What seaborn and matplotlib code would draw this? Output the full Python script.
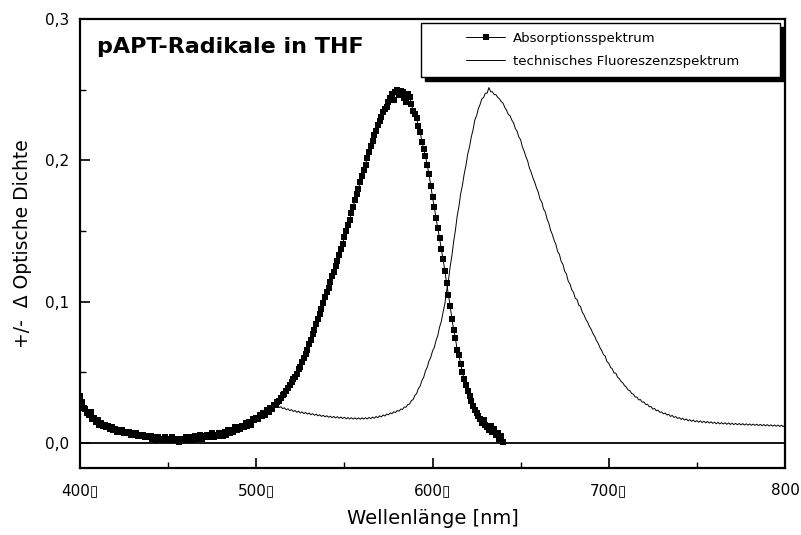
import numpy as np
import pandas as pd
import matplotlib
matplotlib.use("Agg")
import matplotlib.pyplot as plt
from matplotlib.patches import Rectangle
from matplotlib.ticker import FixedLocator, MultipleLocator
import seaborn as sns

# ---------------- data ----------------
# Absorption spectrum, 400..640 nm every 1 nm, values in milli-OD
abs_start, abs_stop, abs_step = 400, 640, 1
abs_milli = [
    33, 29, 25, 24, 21, 20, 22, 17, 18, 15,
    16, 13, 14, 12, 13, 11, 12, 10, 11, 9,
    10, 8, 9, 8, 9, 7, 8, 7, 8, 6,
    7, 6, 7, 5, 6, 5, 6, 4, 5, 4,
    5, 3, 4, 2, 4, 3, 3, 2, 4, 3,
    3, 2, 4, 3, 2, 3, 1, 3, 2, 3,
    4, 2, 3, 4, 2, 5, 3, 4, 6, 3,
    5, 4, 6, 4, 5, 7, 4, 6, 5, 7,
    6, 5, 8, 6, 9, 7, 9, 8, 11, 9,
    11, 10, 12, 11, 14, 12, 15, 13, 17, 16,
    18, 17, 20, 19, 21, 20, 23, 22, 25, 24,
    27, 27, 29, 30, 32, 34, 35, 37, 39, 41,
    43, 45, 47, 49, 52, 54, 57, 60, 63, 66,
    70, 73, 77, 80, 84, 88, 91, 95, 99, 103,
    107, 110, 114, 118, 121, 125, 129, 133, 137, 141,
    146, 150, 154, 158, 163, 167, 172, 176, 180, 185,
    189, 193, 197, 202, 206, 210, 214, 218, 221, 225,
    228, 231, 234, 236, 238, 241, 244, 247, 243, 248,
    250, 246, 249, 248, 244, 241, 247, 245, 240, 235,
    233, 230, 224, 220, 213, 208, 203, 197, 190, 182,
    174, 167, 159, 152, 145, 137, 130, 122, 113, 105,
    97, 88, 80, 74, 66, 62, 56, 50, 45, 41,
    37, 33, 30, 26, 23, 21, 19, 17, 14, 16,
    13, 11, 9, 12, 8, 10, 6, 7, 3, 5, 1,
]

# "technical" fluorescence spectrum, 510..800 nm every 1 nm, milli-OD
fl_start, fl_stop, fl_step = 510, 800, 1
fl_milli = [
    27.5, 26.0, 26.5, 25.1, 25.7, 24.3, 24.9, 23.5, 24.2, 22.9,
    23.6, 22.3, 23.0, 21.7, 22.5, 21.2, 22.0, 20.8, 21.6, 20.4,
    21.2, 20.0, 20.8, 19.6, 20.4, 19.2, 20.0, 18.8, 19.6, 18.5,
    19.3, 18.2, 19.0, 17.9, 18.8, 17.7, 18.6, 17.5, 18.4, 17.3,
    18.2, 17.1, 18.0, 17.0, 17.9, 16.9, 17.8, 16.8, 17.8, 16.8,
    17.8, 16.9, 17.9, 17.0, 18.1, 17.2, 18.3, 17.5, 18.7, 17.9,
    19.2, 18.5, 19.8, 19.1, 20.5, 19.9, 21.3, 20.7, 22.1, 21.5,
    23.0, 22.5, 24.0, 23.7, 25.5, 25.3, 27.3, 27.5, 30.0, 30.7,
    33.7, 35.0, 38.5, 40.3, 44.2, 46.5, 51.0, 53.5, 58.0, 60.5,
    65.0, 67.5, 72.5, 76.0, 82.0, 86.0, 92.5, 98.5, 107.5, 114.5,
    124.5, 132.5, 142.5, 150.5, 160.5, 167.5, 176.5, 182.5, 190.5, 196.5,
    204.5, 209.5, 216.5, 221.5, 228.5, 231.5, 236.5, 239.5, 243.5, 244.5,
    247.5, 247.5, 251.5, 248.5, 248.5, 246.5, 246.5, 244.5, 243.5, 241.5,
    240.5, 237.5, 235.5, 232.5, 231.5, 228.5, 226.5, 222.5, 220.5, 216.5,
    214.5, 209.5, 206.5, 202.5, 199.5, 194.5, 191.5, 187.5, 184.5, 180.5,
    177.5, 172.5, 170.5, 165.5, 163.5, 158.5, 155.5, 150.5, 147.5, 143.5,
    140.5, 135.5, 133.5, 128.5, 126.5, 121.5, 119.5, 114.5, 112.5, 108.5,
    106.5, 102.5, 101.5, 97.5, 96.5, 92.5, 90.5, 87.5, 85.5, 82.5,
    80.5, 77.5, 75.5, 72.5, 70.5, 67.5, 65.5, 62.5, 61.5, 57.5,
    56.5, 53.5, 52.5, 49.5, 49.5, 46.5, 45.5, 43.5, 42.5, 40.5,
    39.5, 37.5, 37.0, 35.0, 34.5, 32.5, 32.5, 30.5, 30.7, 28.8,
    29.0, 27.2, 27.4, 25.6, 25.8, 24.0, 24.4, 22.8, 23.2, 21.6,
    22.0, 20.6, 21.2, 19.8, 20.3, 18.8, 19.5, 18.1, 18.7, 17.4,
    18.0, 16.7, 17.5, 16.2, 17.0, 15.7, 16.5, 15.3, 16.2, 15.0,
    15.8, 14.7, 15.6, 14.5, 15.4, 14.3, 15.2, 14.1, 15.0, 13.9,
    14.7, 13.6, 14.6, 13.5, 14.4, 13.4, 14.3, 13.2, 14.2, 13.1,
    14.0, 13.0, 13.9, 12.9, 13.8, 12.8, 13.7, 12.7, 13.6, 12.6,
    13.5, 12.5, 13.4, 12.4, 13.3, 12.3, 13.2, 12.2, 13.1, 12.1,
    13.0, 12.0, 12.9, 11.9, 12.8, 11.8, 12.7, 11.7, 12.6, 11.6, 12.5,
]

series_labels = ["Absorptionsspektrum", "technisches Fluoreszenzspektrum"]
title_text = "pAPT-Radikale in THF"
x_label = "Wellenlänge [nm]"
y_label = "+/-  \u0394 Optische Dichte"
x_ticks = [400, 500, 600, 700, 800]
x_ticklabels = ["400\u25af", "500\u25af", "600\u25af", "700\u25af", "800"]
y_ticks = [0.0, 0.1, 0.2, 0.3]
y_ticklabels = ["0,0", "0,1", "0,2", "0,3"]

# ---------------- frames ----------------
abs_x = np.arange(abs_start, abs_stop + abs_step, abs_step)
fl_x = np.arange(fl_start, fl_stop + fl_step, fl_step)
df_abs = pd.DataFrame({"nm": abs_x, "od": np.array(abs_milli) / 1000.0})
df_fl = pd.DataFrame({"nm": fl_x, "od": np.array(fl_milli) / 1000.0})

# ---------------- style ----------------
sns.set_style("white")
plt.rcParams["font.family"] = ["DejaVu Sans"]
plt.rcParams["text.color"] = "black"
plt.rcParams["axes.labelcolor"] = "black"
plt.rcParams["xtick.color"] = "black"
plt.rcParams["ytick.color"] = "black"
plt.rcParams["xtick.direction"] = "in"
plt.rcParams["ytick.direction"] = "in"

fig = plt.figure(figsize=(8.01, 5.35), dpi=100)
ax = fig.add_axes([80 / 801, 1 - 468 / 535, 705 / 801, 449 / 535])

sns.lineplot(data=df_abs, x="nm", y="od", ax=ax, color="black", linewidth=0.7,
             marker="s", markersize=3.8, markeredgewidth=0, estimator=None,
             sort=False, label=series_labels[0])
sns.lineplot(data=df_fl, x="nm", y="od", ax=ax, color="black", linewidth=0.7,
             estimator=None, sort=False, label=series_labels[1])

ax.axhline(0.0, color="black", linewidth=1.3, zorder=1)

ax.set_xlim(400, 800)
ax.set_ylim(-0.0177, 0.3)

ax.xaxis.set_major_locator(FixedLocator(x_ticks))
ax.set_xticklabels(x_ticklabels)
ax.xaxis.set_minor_locator(MultipleLocator(50))
ax.yaxis.set_major_locator(FixedLocator(y_ticks))
ax.set_yticklabels(y_ticklabels)
ax.yaxis.set_minor_locator(MultipleLocator(0.05))
ax.tick_params(axis="both", which="major", length=7, width=1.2, labelsize=11,
               colors="black", bottom=True, left=True, top=False, right=False)
ax.tick_params(axis="both", which="minor", length=4, width=1.0,
               bottom=True, left=True, top=False, right=False)
ax.tick_params(axis="x", pad=11)
ax.tick_params(axis="y", pad=8)

for sp in ax.spines.values():
    sp.set_visible(True)
    sp.set_color("black")
    sp.set_linewidth(1.6)

ax.set_xlabel(x_label, fontsize=14, labelpad=8)
ax.set_ylabel(y_label, fontsize=13.5, labelpad=9)

ax.text(0.024, 0.938, title_text, transform=ax.transAxes, fontsize=16,
        fontweight="bold", va="center", ha="left", color="black")

# legend box with black shadow
bx0, by0, bw, bh = 0.484, 0.871, 0.509, 0.120
ax.add_patch(Rectangle((bx0 + 0.006, by0 - 0.009), bw, bh, transform=ax.transAxes,
                       facecolor="black", edgecolor="black", clip_on=False, zorder=4))
ax.add_patch(Rectangle((bx0, by0), bw, bh, transform=ax.transAxes,
                       facecolor="white", edgecolor="black", linewidth=1.0,
                       clip_on=False, zorder=5))
leg = ax.legend(loc="center", bbox_to_anchor=(bx0 + bw / 2 + 0.003, by0 + bh / 2),
                frameon=False, fontsize=9.5, handlelength=3.0, handletextpad=0.6,
                labelspacing=0.75, borderaxespad=0)
leg.set_zorder(6)
for t in leg.get_texts():
    t.set_color("black")

fig.savefig("out.png", dpi=100)
